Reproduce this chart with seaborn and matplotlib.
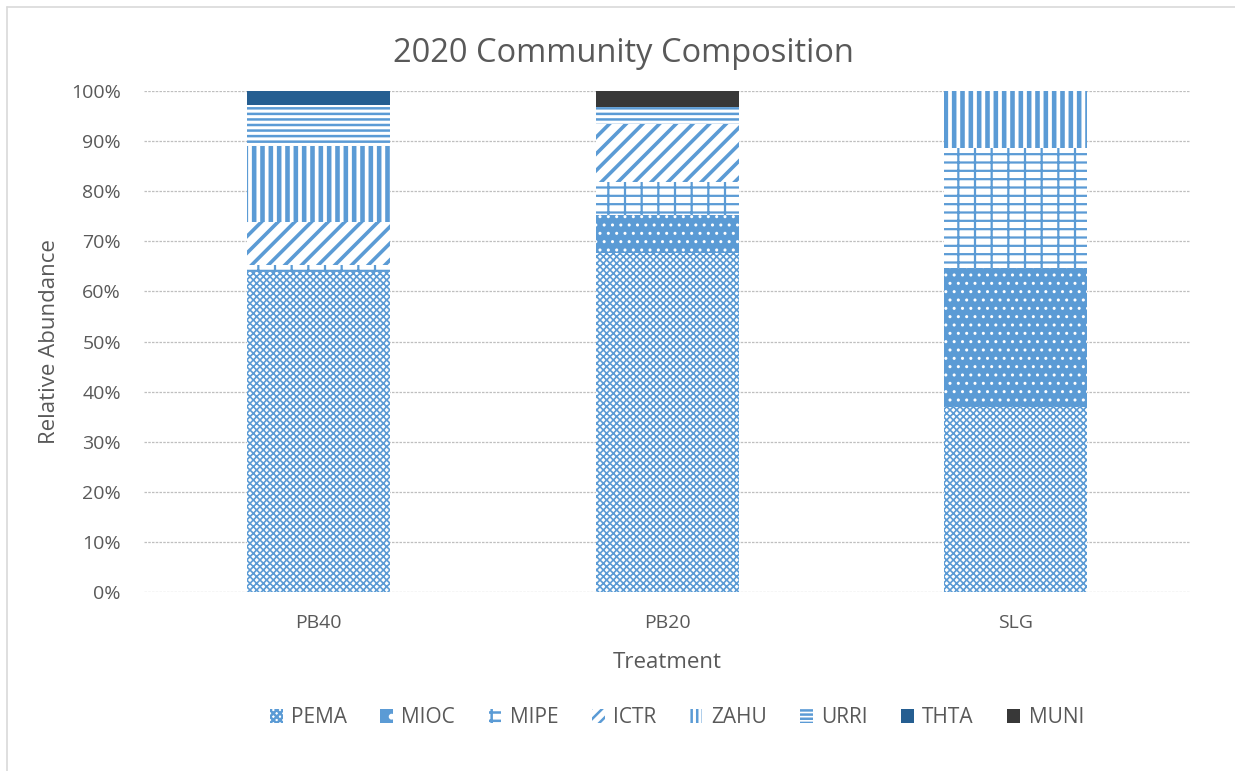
import pandas as pd
import numpy as np
import matplotlib.pyplot as plt
import seaborn as sns
from matplotlib.patches import Patch
from matplotlib.lines import Line2D
from matplotlib.ticker import PercentFormatter

# Relative abundance (%) per species
treatments = ["PB40", "PB20", "SLG"]
species = ["PEMA", "MIOC", "MIPE", "ICTR", "ZAHU", "URRI", "THTA", "MUNI"]
pema = [63.9, 67.7, 36.9]
mioc = [0.0, 7.6, 27.7]
mipe = [1.4, 6.6, 24.0]
ictr = [8.6, 11.6, 0.0]
zahu = [15.2, 0.0, 11.4]
urri = [8.2, 3.4, 0.0]
thta = [2.7, 0.0, 0.0]
muni = [0.0, 3.1, 0.0]

df = pd.DataFrame({"treatment": treatments, "PEMA": pema, "MIOC": mioc,
                   "MIPE": mipe, "ICTR": ictr, "ZAHU": zahu, "URRI": urri,
                   "THTA": thta, "MUNI": muni})
# normalise so every stack ends at 100%
tot = df[species].sum(axis=1)
for s in species:
    df[s] = df[s] / tot * 100

blue = "#5B9BD5"
# face, hatch colour, bar hatch, legend hatch, hatch linewidth
styles = {
    "PEMA": ("white", blue, "xxxxx", "xxxxx", 1.2),
    "MIOC": (blue, "white", "..", ".", 1.0),
    "MIPE": ("white", blue, "--|", "--|", 1.6),
    "ICTR": ("white", blue, "//", "///", 2.6),
    "ZAHU": ("white", blue, "||", "|||", 3.3),
    "URRI": ("white", blue, "---", "----", 1.8),
    "THTA": ("#255E91", "#255E91", "", "", 1.0),
    "MUNI": ("#383838", "#383838", "", "", 1.0),
}

sns.set_style("white")
plt.rcParams["font.family"] = ["Open Sans", "DejaVu Sans"]
grey = "#595959"

fig = plt.figure(figsize=(12.35, 7.71), dpi=100)
ax = fig.add_axes([0.117, 0.232, 0.8466, 0.65])

# cumulative tops, drawn top layer first so lower layers cover them
cum = df[species].cumsum(axis=1)
for s in reversed(species):
    n0 = len(ax.patches)
    sns.barplot(x=df["treatment"], y=cum[s], order=treatments, ax=ax,
                width=0.41, errorbar=None, saturation=1, color="white")
    face, hcol, hatch, lhatch, hlw = styles[s]
    for p in ax.patches[n0:]:
        p.set_facecolor(face)
        p.set_edgecolor(hcol)
        p.set_linewidth(0)
        p.set_hatch(hatch)
        if hasattr(p, "set_hatch_linewidth"):
            p.set_hatch_linewidth(hlw)
        p.set_zorder(2)

ax.set_ylim(0, 100)
ax.set_xlim(-0.5, 2.5)
ax.set_yticks(np.arange(0, 101, 10))
ax.yaxis.set_major_formatter(PercentFormatter(decimals=0))
ax.grid(axis="y", color="#BFBFBF", linestyle=(0, (2, 1)), linewidth=0.9)
ax.set_axisbelow(True)
for sp in ax.spines.values():
    sp.set_visible(False)
ax.tick_params(axis="both", length=0, labelsize=14, colors=grey)
ax.tick_params(axis="y", pad=17)
ax.tick_params(axis="x", pad=16)

fig.text(0.505, 0.930, "2020 Community Composition", fontsize=23.5,
         color=grey, ha="center", va="center")
ax.set_xlabel("Treatment", fontsize=16, color=grey, labelpad=14)
ax.set_ylabel("Relative Abundance", fontsize=16, color=grey, labelpad=8)

# bolder hatching for the small legend keys
plt.rcParams["hatch.linewidth"] = 1.8
handles = []
for s in species:
    face, hcol, hatch, lhatch, hlw = styles[s]
    h = Patch(facecolor=face, edgecolor=hcol, hatch=lhatch, linewidth=0, label=s)
    if hasattr(h, "set_hatch_linewidth"):
        h.set_hatch_linewidth(min(hlw, 2.0))
    handles.append(h)
leg = fig.legend(handles=handles, loc="center", bbox_to_anchor=(0.548, 0.069),
                 ncol=8, frameon=False, fontsize=15, handlelength=0.62,
                 handleheight=0.62, columnspacing=1.6, handletextpad=0.4)
for t in leg.get_texts():
    t.set_color(grey)

# chart area border (top and left visible)
fig.add_artist(Line2D([0.006, 1], [0.991, 0.991], color="#D9D9D9", lw=1.2))
fig.add_artist(Line2D([0.006, 0.006], [0, 0.991], color="#D9D9D9", lw=1.2))

fig.savefig("out.png", dpi=100)
